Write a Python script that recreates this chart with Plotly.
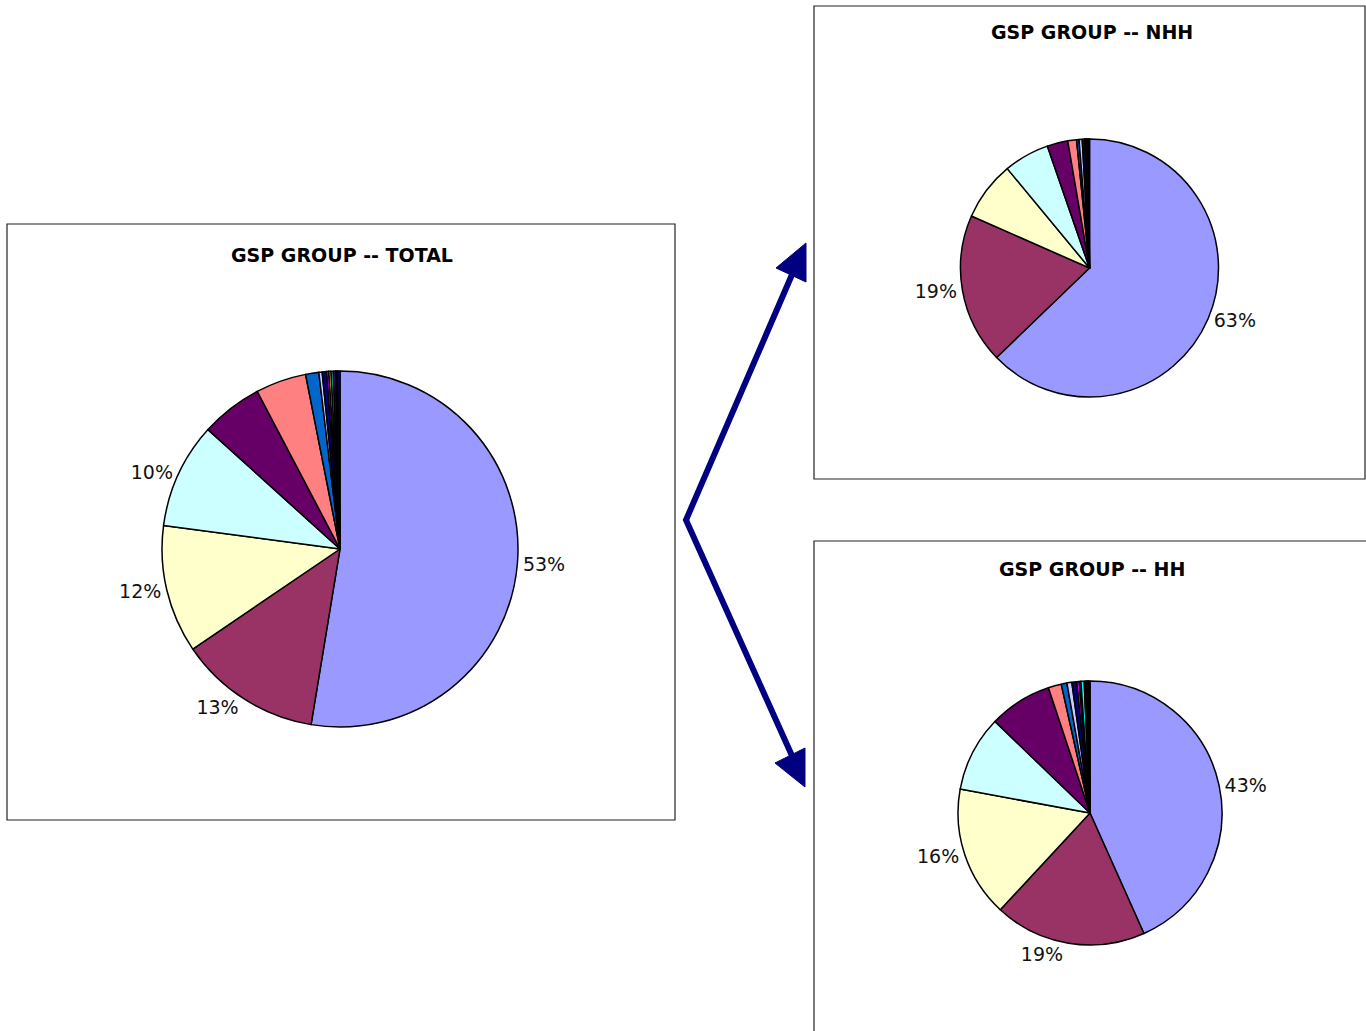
import plotly.graph_objects as go

W, H = 1366, 1031

# Supplier shares (%) per GSP group, in the order the slices are drawn clockwise from 12 o'clock
suppliers = ["S01", "S02", "S03", "S04", "S05", "S06", "S07", "S08",
             "S09", "S10", "S11", "S12", "S13", "S14", "S15", "S16"]
share_total = [52.6, 12.9, 11.6, 9.6, 5.6, 4.6, 1.2, 0.3, 0.4, 0.2, 0.2, 0.2, 0.2, 0.1, 0.1, 0.2]
share_nhh = [62.8, 18.8, 7.4, 5.7, 2.6, 1.1, 0.3, 0.4, 0.3, 0.1, 0.1, 0.1, 0.1, 0.05, 0.05, 0.1]
share_hh = [43.3, 18.6, 16.0, 9.3, 7.7, 1.6, 0.7, 0.6, 0.6, 0.3, 0.2, 0.4, 0.2, 0.2, 0.1, 0.2]

# Number of leading slices that carry a percentage label
labelled_total = 4
labelled_nhh = 2
labelled_hh = 3

titles = ["GSP GROUP -- TOTAL", "GSP GROUP -- NHH", "GSP GROUP -- HH"]

palette = ["#9999FF", "#993366", "#FFFFCC", "#CCFFFF", "#660066", "#FF8080",
           "#0066CC", "#CCCCFF", "#000080", "#FF00FF", "#FFFF00", "#00FFFF",
           "#800080", "#800000", "#008080", "#0000FF"]


def px(x):
    return x / W


def py(y):
    return 1 - y / H


def pie(values, n_labels, cx, cy, r):
    templates = ["%{percent:.0%}"] * n_labels + [""] * (len(values) - n_labels)
    return go.Pie(
        labels=suppliers, values=values, sort=False, direction="clockwise",
        rotation=0, marker=dict(colors=palette, line=dict(color="black", width=1.5)),
        texttemplate=templates, textposition="outside",
        outsidetextfont=dict(family="DejaVu Sans", size=19, color="#111111"),
        hoverinfo="label+percent", showlegend=False,
        domain=dict(x=[px(cx - r), px(cx + r)], y=[py(cy + r), py(cy - r)]),
    )


fig = go.Figure()
fig.add_trace(pie(share_total, labelled_total, 340, 549, 178))
fig.add_trace(pie(share_nhh, labelled_nhh, 1089.5, 268, 129))
fig.add_trace(pie(share_hh, labelled_hh, 1090, 813, 132))

shapes = []
# Frames around each chart
for x0, y0, x1, y1 in [(7, 224, 675, 820), (814, 6, 1365, 479), (814, 541, 1372, 1040)]:
    shapes.append(dict(type="rect", xref="paper", yref="paper",
                       x0=px(x0), y0=py(y1), x1=px(x1), y1=py(y0),
                       line=dict(color="#222222", width=1.2), fillcolor="rgba(0,0,0,0)"))


def path(points, close=False):
    d = "M " + " L ".join(f"{px(x):.5f},{py(y):.5f}" for x, y in points)
    return d + (" Z" if close else "")


navy = "#000080"
# Arrow shafts from the total chart to the two breakdowns
shapes.append(dict(type="path", xref="paper", yref="paper",
                   path=path([(794, 270), (686, 520), (793, 758)]),
                   line=dict(color=navy, width=6)))
# Arrow heads
shapes.append(dict(type="path", xref="paper", yref="paper",
                   path=path([(806, 243), (776, 268), (806, 282)], close=True),
                   line=dict(color=navy, width=1), fillcolor=navy))
shapes.append(dict(type="path", xref="paper", yref="paper",
                   path=path([(805, 787), (775, 763), (805, 748)], close=True),
                   line=dict(color=navy, width=1), fillcolor=navy))

annotations = []
for text, x, y in zip(titles, [342, 1092, 1092], [255, 32, 569]):
    annotations.append(dict(text=text, x=px(x), y=py(y), xref="paper", yref="paper",
                            showarrow=False, xanchor="center", yanchor="middle",
                            font=dict(family="DejaVu Sans", size=19, color="black", weight="bold")))

fig.update_layout(
    width=W, height=H, margin=dict(l=0, r=0, t=0, b=0),
    paper_bgcolor="white", plot_bgcolor="white",
    shapes=shapes, annotations=annotations,
)

fig.write_html("out.html")
